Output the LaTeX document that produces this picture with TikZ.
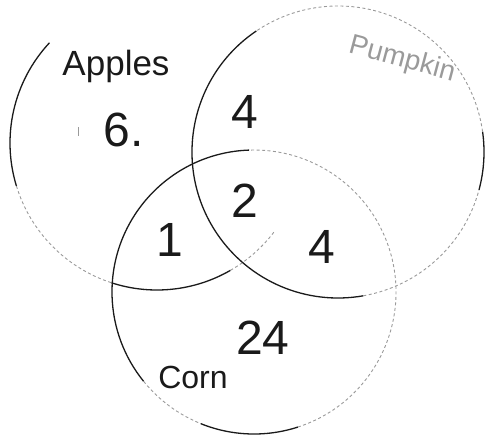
\documentclass[tikz,border=0pt]{standalone}
\usepackage{fontspec}
\setmainfont{Liberation Sans}
\definecolor{Ink}{HTML}{1A1A1A}
\definecolor{Pencil}{HTML}{9A9A9A}

\begin{document}
\begin{tikzpicture}[x=1pt,y=-1pt,
    ink/.style={Ink,line width=1.3pt},
    faint/.style={Pencil,line width=0.9pt,dash pattern=on 3pt off 2.5pt},
    hand/.style={text=Ink,inner sep=0pt},
    big/.style={hand,font=\fontsize{48}{48}\selectfont}]
  \useasboundingbox (0,0) rectangle (487,442);
  \coordinate (apples) at (157,143);
  \coordinate (pumpkin) at (338,152);
  \coordinate (corn) at (254,292);

  % Apples
  \draw[ink] (apples) ++(223:147) arc[start angle=223,end angle=163,radius=147];
  \draw[faint] (apples) ++(163:147) arc[start angle=163,end angle=108,radius=147];
  \draw[ink] (apples) ++(108:147) arc[start angle=108,end angle=60,radius=147];
  \draw[faint] (apples) ++(60:147) arc[start angle=60,end angle=37,radius=147];

  % Pumpkin
  \draw[ink] (pumpkin) ++(236:146) arc[start angle=236,end angle=80,radius=146];
  \draw[faint] (pumpkin) ++(80:146) arc[start angle=80,end angle=15,radius=146];
  \draw[ink] (pumpkin) ++(15:146) arc[start angle=15,end angle=-8,radius=146];
  \draw[faint] (pumpkin) ++(-8:146) arc[start angle=-8,end angle=-124,radius=146];

  % Corn
  \draw[ink] (corn) ++(268:142) arc[start angle=268,end angle=141,radius=142];
  \draw[faint] (corn) ++(141:142) arc[start angle=141,end angle=112,radius=142];
  \draw[ink] (corn) ++(112:142) arc[start angle=112,end angle=72,radius=142];
  \draw[faint] (corn) ++(72:142) arc[start angle=72,end angle=-92,radius=142];

  \node[hand,font=\fontsize{35}{35}\selectfont] (applesLabel) at (116,66) {Apples};
  \node[hand,text=Pencil,rotate=-15,font=\fontsize{28}{28}\selectfont] (pumpkinLabel) at (402,60) {Pumpkin};
  \node[hand,font=\fontsize{32}{32}\selectfont] (cornLabel) at (193,377) {Corn};

  \draw[Pencil,line width=1pt] (78,127) -- (78,136);
  \node[big] (onlyApples) at (124,130) {6.};
  \node[big] (onlyPumpkinTop) at (245,112) {4};
  \node[big] (allThree) at (245,201) {2};
  \node[big] (applesCorn) at (170,240) {1};
  \node[big] (pumpkinCorn) at (322,247) {4};
  \node[big] (onlyCorn) at (263,338) {24};
\end{tikzpicture}
\end{document}
